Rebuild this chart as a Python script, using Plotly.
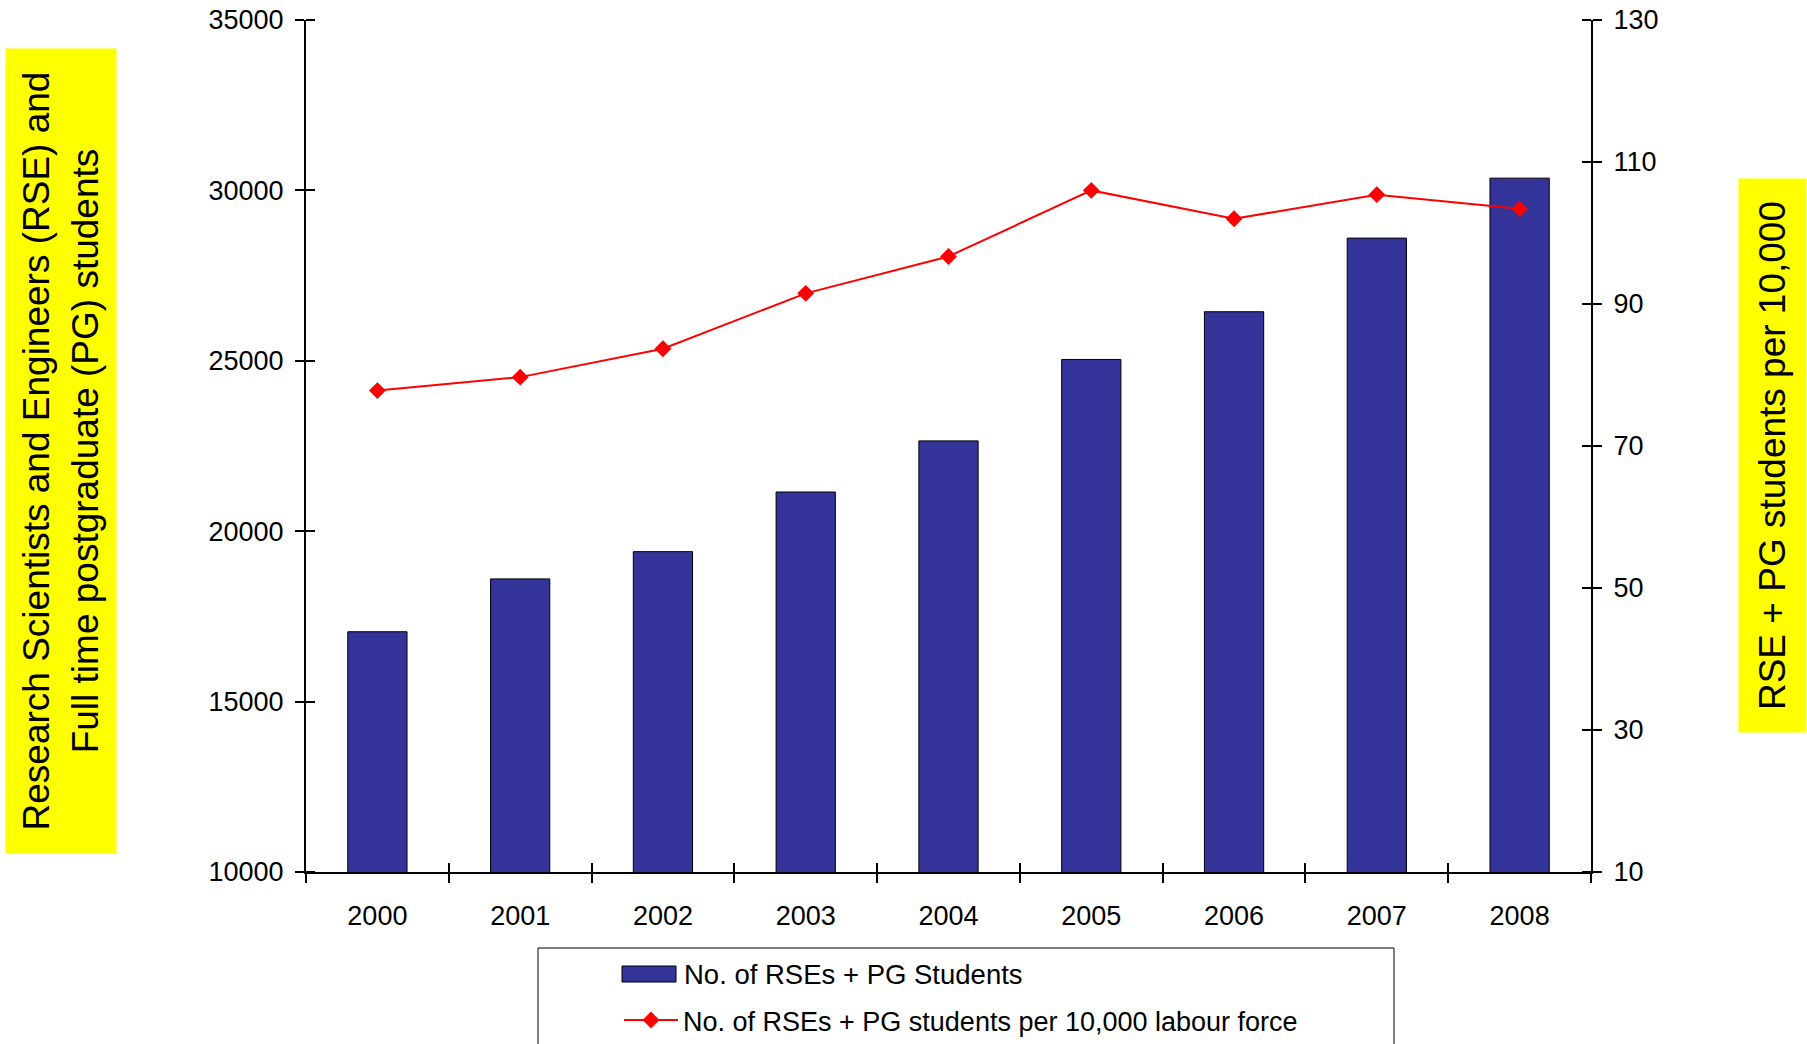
import plotly.graph_objects as go

# Data
years = ["2000", "2001", "2002", "2003", "2004", "2005", "2006", "2007", "2008"]
rse_pg_total = [17050, 18600, 19400, 21150, 22650, 25040, 26440, 28600, 30360]
rse_pg_per_10000 = [77.8, 79.7, 83.7, 91.5, 96.7, 106.0, 102.0, 105.4, 103.4]

bar_name = "No. of RSEs + PG Students"
line_name = "No. of RSEs + PG students per 10,000 labour force"
left_title = "Research Scientists and Engineers (RSE) and<br>Full time postgraduate (PG) students"
right_title = "RSE + PG students per 10,000"

BAR_COLOR = "#333399"
LINE_COLOR = "#FF0000"
FONT = "Liberation Sans, Arial, sans-serif"
W, H = 1807, 1044
ML, MR, MT, MB = 306, 216, 20, 172
PW, PH = W - ML - MR, H - MT - MB


def px_x(p):
    return (p - ML) / PW


def px_y(p):
    return (H - MB - p) / PH


fig = go.Figure()

fig.add_trace(go.Bar(
    x=years, y=rse_pg_total, name=bar_name, showlegend=False,
    marker=dict(color=BAR_COLOR, line=dict(color="black", width=1)),
))
fig.add_trace(go.Scatter(
    x=years, y=rse_pg_per_10000, name=line_name, yaxis="y2",
    mode="lines+markers",
    line=dict(color=LINE_COLOR, width=2),
    marker=dict(symbol="diamond", size=13, color=LINE_COLOR),
))
# invisible helper carrying the upper half of the crossing category ticks
fig.add_trace(go.Scatter(x=years, y=rse_pg_total, xaxis="x3", yaxis="y",
                         mode="markers", marker=dict(opacity=0),
                         showlegend=False, hoverinfo="skip"))

tickfont = dict(family=FONT, size=27, color="black")
common = dict(showgrid=False, zeroline=False, tickcolor="black", tickwidth=2)


def inner_ticks(dtick, tick0):
    return dict(ticks="inside", ticklen=9, dtick=dtick, tick0=tick0,
                tickcolor="black", tickwidth=2, showgrid=False)


fig.update_layout(
    width=W, height=H,
    margin=dict(l=ML, r=MR, t=MT, b=MB, autoexpand=False),
    paper_bgcolor="white", plot_bgcolor="white",
    bargap=0.585,
    font=dict(family=FONT, color="black"),
    xaxis=dict(type="category", range=[-0.5, 8.5], tickson="boundaries",
               ticks="outside", ticklen=9, showline=True, linecolor="black",
               linewidth=2, tickfont=tickfont, ticklabelstandoff=19, **common),
    xaxis3=dict(type="category", range=[-0.5, 8.5], tickson="boundaries",
                overlaying="x", anchor="y", side="bottom", ticks="inside",
                ticklen=9, showticklabels=False, showline=False, **common),
    yaxis=dict(range=[10000, 35000], dtick=5000, tickformat="d",
               ticks="outside", ticklen=9, showline=True, linecolor="black",
               linewidth=2, tickfont=tickfont, ticklabelstandoff=6,
               minor=inner_ticks(5000, 10000), **common),
    yaxis2=dict(range=[10, 130], tick0=10, dtick=20, overlaying="y",
                side="right", anchor="x", ticks="outside", ticklen=9,
                showline=True, linecolor="black", linewidth=2,
                tickfont=tickfont, ticklabelstandoff=6,
                minor=inner_ticks(20, 10), **common),
    legend=dict(x=px_x(619), y=px_y(996), xanchor="left", yanchor="top",
                font=dict(family=FONT, size=27, color="black"),
                bgcolor="rgba(0,0,0,0)", borderwidth=0, itemwidth=54),
    showlegend=True,
)

# legend frame
fig.add_shape(type="rect", xref="paper", yref="paper",
              x0=px_x(538), x1=px_x(1394), y0=px_y(948), y1=px_y(1120),
              line=dict(color="black", width=1), fillcolor="rgba(0,0,0,0)")
# legend entry for the bar series (wide swatch)
fig.add_shape(type="rect", xref="paper", yref="paper",
              x0=px_x(622), x1=px_x(676), y0=px_y(982), y1=px_y(966),
              line=dict(color="black", width=1), fillcolor=BAR_COLOR)
fig.add_annotation(text=bar_name, xref="paper", yref="paper",
                   x=px_x(682), y=px_y(974), xanchor="left", yanchor="middle",
                   showarrow=False,
                   font=dict(family=FONT, size=27.5, color="black"))

# axis titles in yellow boxes
fig.add_annotation(text=left_title, textangle=-90, xref="paper", yref="paper",
                   x=px_x(61), y=px_y(451), xanchor="center", yanchor="middle",
                   showarrow=False, bgcolor="#FFFF00", width=802, height=108,
                   font=dict(family=FONT, size=37, color="black"))
fig.add_annotation(text=right_title, textangle=-90, xref="paper", yref="paper",
                   x=px_x(1772), y=px_y(456), xanchor="center", yanchor="middle",
                   showarrow=False, bgcolor="#FFFF00", width=551, height=65,
                   font=dict(family=FONT, size=37, color="black"))

fig.write_html("out.html")
